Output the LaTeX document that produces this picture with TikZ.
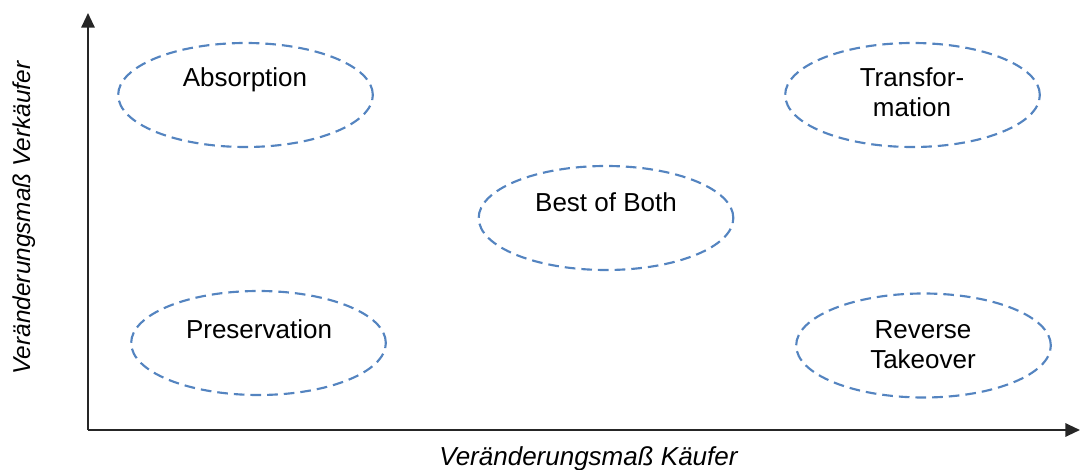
\documentclass[tikz,border=0pt]{standalone}
\usepackage{fontspec}
\setmainfont{Liberation Sans}
\usetikzlibrary{shapes.geometric,arrows.meta}
\definecolor{dashblue}{RGB}{84,132,192}
\begin{document}
\begin{tikzpicture}[x=0.75pt,y=-0.75pt,
  blob/.style={draw=dashblue,line width=1.6pt,dash pattern=on 8pt off 4.5pt,ellipse,minimum width=191pt,minimum height=78pt,inner sep=0pt},
  lbl/.style={font=\fontsize{19.5}{22.5}\selectfont,align=center,inner sep=0pt},
  axlbl/.style={font=\fontsize{19.5}{22.5}\selectfont\itshape,inner sep=0pt,anchor=base},
  axis/.style={draw=black!85,line width=1.5pt,-{Triangle[length=11pt,width=10pt]}}]
\useasboundingbox (0,0) rectangle (1082,470);
\coordinate (O) at (88,430);
\coordinate (Ytip) at (88,13);
\coordinate (Xtip) at (1080,430);
\draw[axis] (O) -- (Ytip);
\draw[axis] (O) -- (Xtip);
\node[blob] (e1) at (245.5,95) {};
\node[blob] (e2) at (912.5,95) {};
\node[blob] (e3) at (606,218) {};
\node[blob] (e4) at (258.5,343) {};
\node[blob] (e5) at (923.5,345.5) {};
\node[lbl,anchor=base] (t1) at (245,87) {Absorption};
\node[lbl] (t2) at (912,92.5) {Transfor-\\mation};
\node[lbl,anchor=base] (t3) at (606,212) {Best of Both};
\node[lbl,anchor=base] (t4) at (259,339) {Preservation};
\node[lbl] (t5) at (923,344.5) {Reverse\\Takeover};
\node[axlbl] (xl) at (588.5,465) {Veränderungsmaß Käufer};
\node[axlbl,rotate=90,font=\fontsize{18.3}{21}\selectfont\itshape] (yl) at (31,218) {Veränderungsmaß Verkäufer};
\end{tikzpicture}
\end{document}
